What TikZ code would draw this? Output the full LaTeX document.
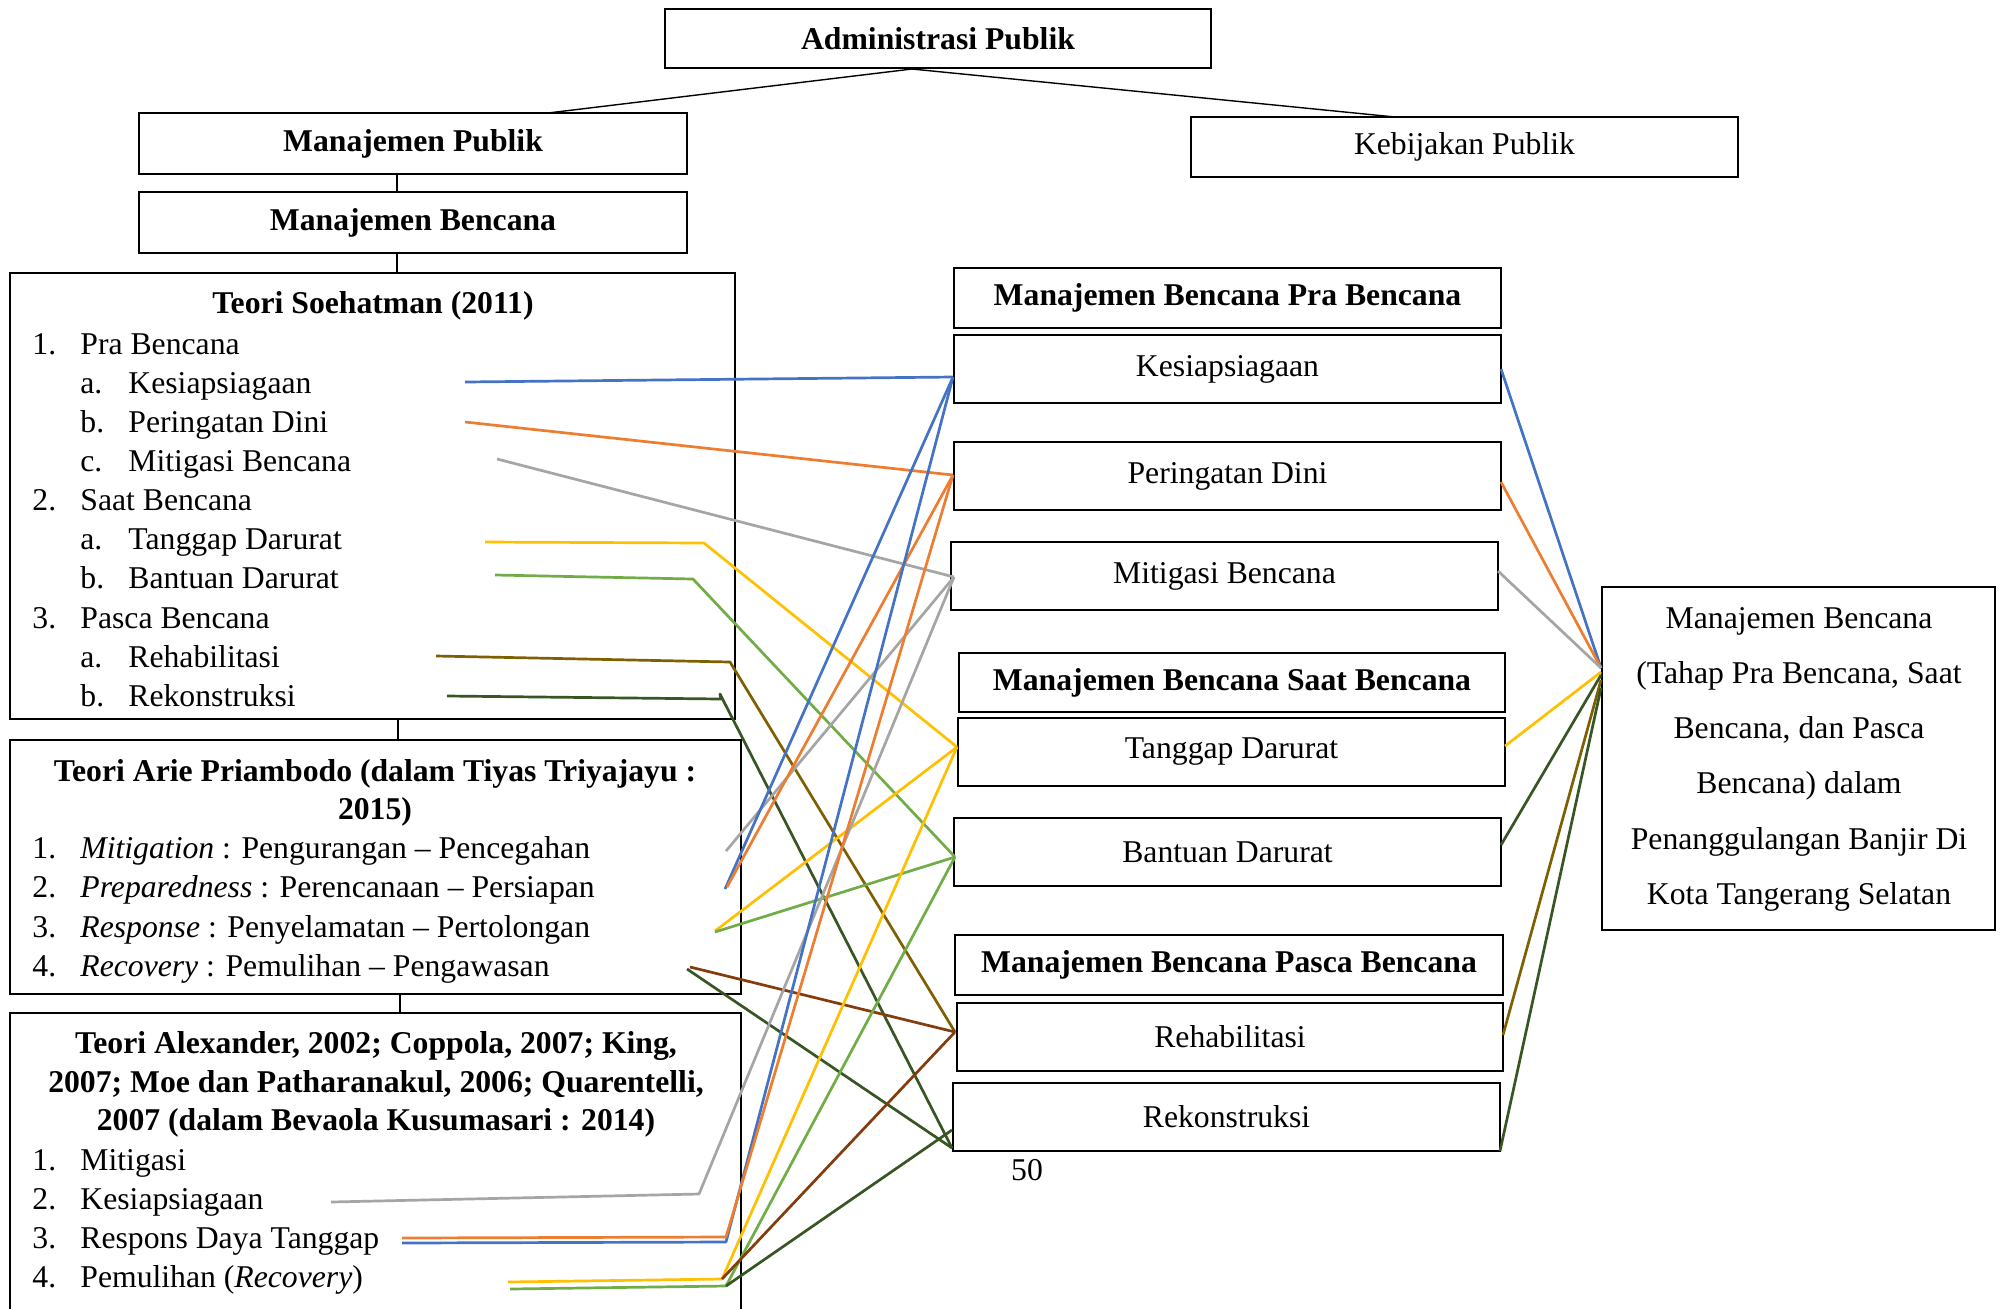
\documentclass[tikz,border=0pt]{standalone}
\usepackage{fontspec}
\setmainfont{Liberation Serif}
\usetikzlibrary{fit,calc}
\definecolor{cblue}{HTML}{4472C4}
\definecolor{corange}{HTML}{ED7D31}
\definecolor{cgray}{HTML}{A5A5A5}
\definecolor{cyellow}{HTML}{FFC000}
\definecolor{cgreen}{HTML}{70AD47}
\definecolor{colive}{HTML}{7F6000}
\definecolor{cdgreen}{HTML}{375623}
\definecolor{cbrown}{HTML}{843C0C}
\begin{document}
\begin{tikzpicture}[x=0.5pt,y=-0.5pt,
  every node/.style={font=\fontsize{15.85}{19}\selectfont, inner sep=0pt},
  box/.style={draw, line width=1.3pt, inner sep=0pt},
  thinline/.style={line width=0.7pt},
  cl/.style={line width=1.35pt, line join=round}]
\useasboundingbox (0,0) rectangle (2008,1308);
\clip (0,0) rectangle (2008,1308);
\fill[white] (0,0) rectangle (2008,1308);

% ---- top boxes
\node[box, fit={(665,9)(1211,68)}] (admin) {};
\node[box, fit={(139,113)(687,174)}] (mpub) {};
\node[box, fit={(139,192)(687,253)}] (mben) {};
\node[box, fit={(1191,117)(1738,177)}] (kebij) {};
\node (adminT) at (admin.center) {\textbf{Administrasi Publik}};
\node (mpubT) at (mpub.center) {\textbf{Manajemen Publik}};
\node (mbenT) at (mben.center) {\textbf{Manajemen Bencana}};
\node (kebijT) at (kebij.center) {Kebijakan Publik};

% ---- left theory boxes
\node[box, fit={(10,273)(735,719)}] (soeh) {};
\node[box, fit={(10,740)(741,994)}] (arie) {};
\node[box, fit={(10,1013)(741,1340)}] (alex) {};

% ---- right boxes
\node[box, fit={(954,268)(1501,328)}] (hpra) {};
\node[box, fit={(954,335)(1501,403)}] (kesi) {};
\node[box, fit={(954,442)(1501,510)}] (peri) {};
\node[box, fit={(951,542)(1498,610)}] (miti) {};
\node[box, fit={(959,653)(1505,712)}] (hsaat) {};
\node[box, fit={(958,718)(1505,786)}] (tang) {};
\node[box, fit={(954,818)(1501,886)}] (bant) {};
\node[box, fit={(955,935)(1503,995)}] (hpasca) {};
\node[box, fit={(957,1003)(1503,1071)}] (reha) {};
\node[box, fit={(953,1083)(1500,1151)}] (reko) {};
\node[box, fit={(1602,587)(1995,930)}] (hasil) {};
\node (hpraT) at (hpra.center) {\textbf{Manajemen Bencana Pra Bencana}};
\node (kesiT) at (kesi.center) {Kesiapsiagaan};
\node (periT) at (peri.center) {Peringatan Dini};
\node (mitiT) at (miti.center) {Mitigasi Bencana};
\node (hsaatT) at (hsaat.center) {\textbf{Manajemen Bencana Saat Bencana}};
\node (tangT) at (tang.center) {Tanggap Darurat};
\node (bantT) at (bant.center) {Bantuan Darurat};
\node (hpascaT) at (hpasca.center) {\textbf{Manajemen Bencana Pasca Bencana}};
\node (rehaT) at (reha.center) {Rehabilitasi};
\node (rekoT) at (reko.center) {Rekonstruksi};

% ---- result box text
\node[anchor=base] (h1) at (1799,628) {Manajemen Bencana};
\node[anchor=base] (h2) at (1799,683) {(Tahap Pra Bencana, Saat};
\node[anchor=base] (h3) at (1799,738) {Bencana, dan Pasca};
\node[anchor=base] (h4) at (1799,793) {Bencana) dalam};
\node[anchor=base] (h5) at (1799,849) {Penanggulangan Banjir Di};
\node[anchor=base] (h6) at (1799,904) {Kota Tangerang Selatan};

\node[anchor=base] (pg) at (1027,1180) {50};

% ---- Soehatman text
\node[anchor=base] (st) at (373,313) {\textbf{Teori Soehatman (2011)}};
\node[anchor=base west] (s1n) at (32,354) {1.};
\node[anchor=base west] (s1) at (80,354) {Pra Bencana};
\node[anchor=base west] (s1an) at (80,393) {a.};
\node[anchor=base west] (s1a) at (128,393) {Kesiapsiagaan};
\node[anchor=base west] (s1bn) at (80,432) {b.};
\node[anchor=base west] (s1b) at (128,432) {Peringatan Dini};
\node[anchor=base west] (s1cn) at (80,471) {c.};
\node[anchor=base west] (s1c) at (128,471) {Mitigasi Bencana};
\node[anchor=base west] (s2n) at (32,510) {2.};
\node[anchor=base west] (s2) at (80,510) {Saat Bencana};
\node[anchor=base west] (s2an) at (80,549) {a.};
\node[anchor=base west] (s2a) at (128,549) {Tanggap Darurat};
\node[anchor=base west] (s2bn) at (80,588) {b.};
\node[anchor=base west] (s2b) at (128,588) {Bantuan Darurat};
\node[anchor=base west] (s3n) at (32,628) {3.};
\node[anchor=base west] (s3) at (80,628) {Pasca Bencana};
\node[anchor=base west] (s3an) at (80,667) {a.};
\node[anchor=base west] (s3a) at (128,667) {Rehabilitasi};
\node[anchor=base west] (s3bn) at (80,706) {b.};
\node[anchor=base west] (s3b) at (128,706) {Rekonstruksi};

% ---- Arie text
\node[anchor=base] (at1) at (375,781) {\textbf{Teori Arie Priambodo (dalam Tiyas Triyajayu :}};
\node[anchor=base] (at2) at (375,819) {\textbf{2015)}};
\node[anchor=base west] (a1n) at (32,858) {1.};
\node[anchor=base west] (a1) at (80,858) {\textit{Mitigation} : Pengurangan – Pencegahan};
\node[anchor=base west] (a2n) at (32,897) {2.};
\node[anchor=base west] (a2) at (80,897) {\textit{Preparedness} : Perencanaan – Persiapan};
\node[anchor=base west] (a3n) at (32,937) {3.};
\node[anchor=base west] (a3) at (80,937) {\textit{Response} : Penyelamatan – Pertolongan};
\node[anchor=base west] (a4n) at (32,976) {4.};
\node[anchor=base west] (a4) at (80,976) {\textit{Recovery} : Pemulihan – Pengawasan};

% ---- Alexander text
\node[anchor=base] (xt1) at (376,1053) {\textbf{Teori Alexander, 2002; Coppola, 2007; King,}};
\node[anchor=base] (xt2) at (376,1092) {\textbf{2007; Moe dan Patharanakul, 2006; Quarentelli,}};
\node[anchor=base] (xt3) at (376,1130) {\textbf{2007 (dalam Bevaola Kusumasari : 2014)}};
\node[anchor=base west] (x1n) at (32,1170) {1.};
\node[anchor=base west] (x1) at (80,1170) {Mitigasi};
\node[anchor=base west] (x2n) at (32,1209) {2.};
\node[anchor=base west] (x2) at (80,1209) {Kesiapsiagaan};
\node[anchor=base west] (x3n) at (32,1248) {3.};
\node[anchor=base west] (x3) at (80,1248) {Respons Daya Tanggap};
\node[anchor=base west] (x4n) at (32,1287) {4.};
\node[anchor=base west] (x4) at (80,1287) {Pemulihan (\textit{Recovery})};

% ---- black connectors
\coordinate (aS) at (912,69);
\coordinate (mpT) at (548,113);
\coordinate (kbT) at (1395,117);
\coordinate (v1) at (397,0);
\coordinate (v2) at (398,0);
\coordinate (v3) at (400,0);
\draw[thinline] (aS) -- (mpT);
\draw[thinline] (aS) -- (kbT);
\draw[thinline] (mpub.south -| v1) -- (mben.north -| v1);
\draw[thinline] (mben.south -| v1) -- (soeh.north -| v1);
\draw[thinline] (soeh.south -| v2) -- (arie.north -| v2);
\draw[thinline] (arie.south -| v3) -- (alex.north -| v3);

% ---- convergence points on the right-hand boxes
\coordinate (cK) at (953,377);
\coordinate (cP) at (953,475);
\coordinate (cM) at (954,577);
\coordinate (cT) at (957,747);
\coordinate (cB) at (955,857);
\coordinate (cR) at (955,1032);
\coordinate (cR2) at (952,1148);
\coordinate (cR3) at (952,1130);

% ---- Soehatman lines
\coordinate (sKe) at (465,382);
\coordinate (sPe) at (465,422);
\coordinate (sMi) at (497,459);
\coordinate (sTa) at (485,542);
\coordinate (sBa) at (495,575);
\coordinate (sRh) at (436,656);
\coordinate (sRk) at (447,696);
\draw[cl, cblue] (sKe) -- (cK);
\draw[cl, corange] (sPe) -- (cP);
\draw[cl, cgray] (sMi) -- (cM);
\draw[cl, cyellow] (sTa) -- (704,543) -- (cT);
\draw[cl, cgreen] (sBa) -- (693,579) -- (cB);
\draw[cl, colive] (sRh) -- (730,662) -- (cR);
\draw[cl, cdgreen] (sRk) -- (721,699) -- (720,694) -- (cR2);

% ---- Arie lines
\coordinate (aMi) at (726,851);
\coordinate (aKe) at (725,889);
\coordinate (aPe) at (727,887);
\coordinate (aRe) at (715,931);
\coordinate (aRb) at (715,932);
\coordinate (aRh) at (690,967);
\coordinate (aRk) at (687,969);
\draw[cl, cgray] (aMi) -- (cM);
\draw[cl, cblue] (aKe) -- (cK);
\draw[cl, corange] (aPe) -- (cP);
\draw[cl, cyellow] (aRe) -- (cT);
\draw[cl, cgreen] (aRb) -- (cB);
\draw[cl, cbrown] (aRh) -- (cR);
\draw[cl, cdgreen] (aRk) -- (cR2);

% ---- Alexander lines
\coordinate (xMi) at (331,1202);
\coordinate (xPe) at (402,1238);
\coordinate (xKe) at (402,1243);
\coordinate (xTa) at (508,1282);
\coordinate (xBa) at (510,1289);
\coordinate (xJ) at (722,1279);
\coordinate (xJ2) at (726,1286);
\draw[cl, cgray] (xMi) -- (699,1194) -- (cM);
\draw[cl, cblue] (xKe) -- (726,1242) -- (cK);
\draw[cl, corange] (xPe) -- (726,1237) -- (cP);
\draw[cl, cgreen] (xBa) -- (xJ2) -- (cB);
\draw[cl, cyellow] (xTa) -- (xJ) -- (cT);
\draw[cl, cbrown] (xJ) -- (cR);
\draw[cl, cdgreen] (xJ2) -- (cR3);

% ---- right lines to result box
\coordinate (rK) at (1501,369);
\coordinate (rP) at (1501,482);
\coordinate (rM) at (1498,571);
\coordinate (rT) at (1505,746);
\coordinate (rB) at (1501,845);
\coordinate (rR) at (1503,1035);
\coordinate (rRk) at (1500,1151);
\coordinate (hA) at (1601,668);
\coordinate (hB) at (1601,672);
\coordinate (hC) at (1601,675);
\coordinate (hD) at (1601,680);
\coordinate (hE) at (1601,688);
\draw[cl, cblue] (rK) -- (hA);
\draw[cl, corange] (rP) -- (hA);
\draw[cl, cgray] (rM) -- (hA);
\draw[cl, cyellow] (rT) -- (hB);
\draw[cl, cdgreen] (rB) -- (hC);
\draw[cl, colive] (rR) -- (hD);
\draw[cl, cdgreen] (rRk) -- (hE);
\end{tikzpicture}
\end{document}
